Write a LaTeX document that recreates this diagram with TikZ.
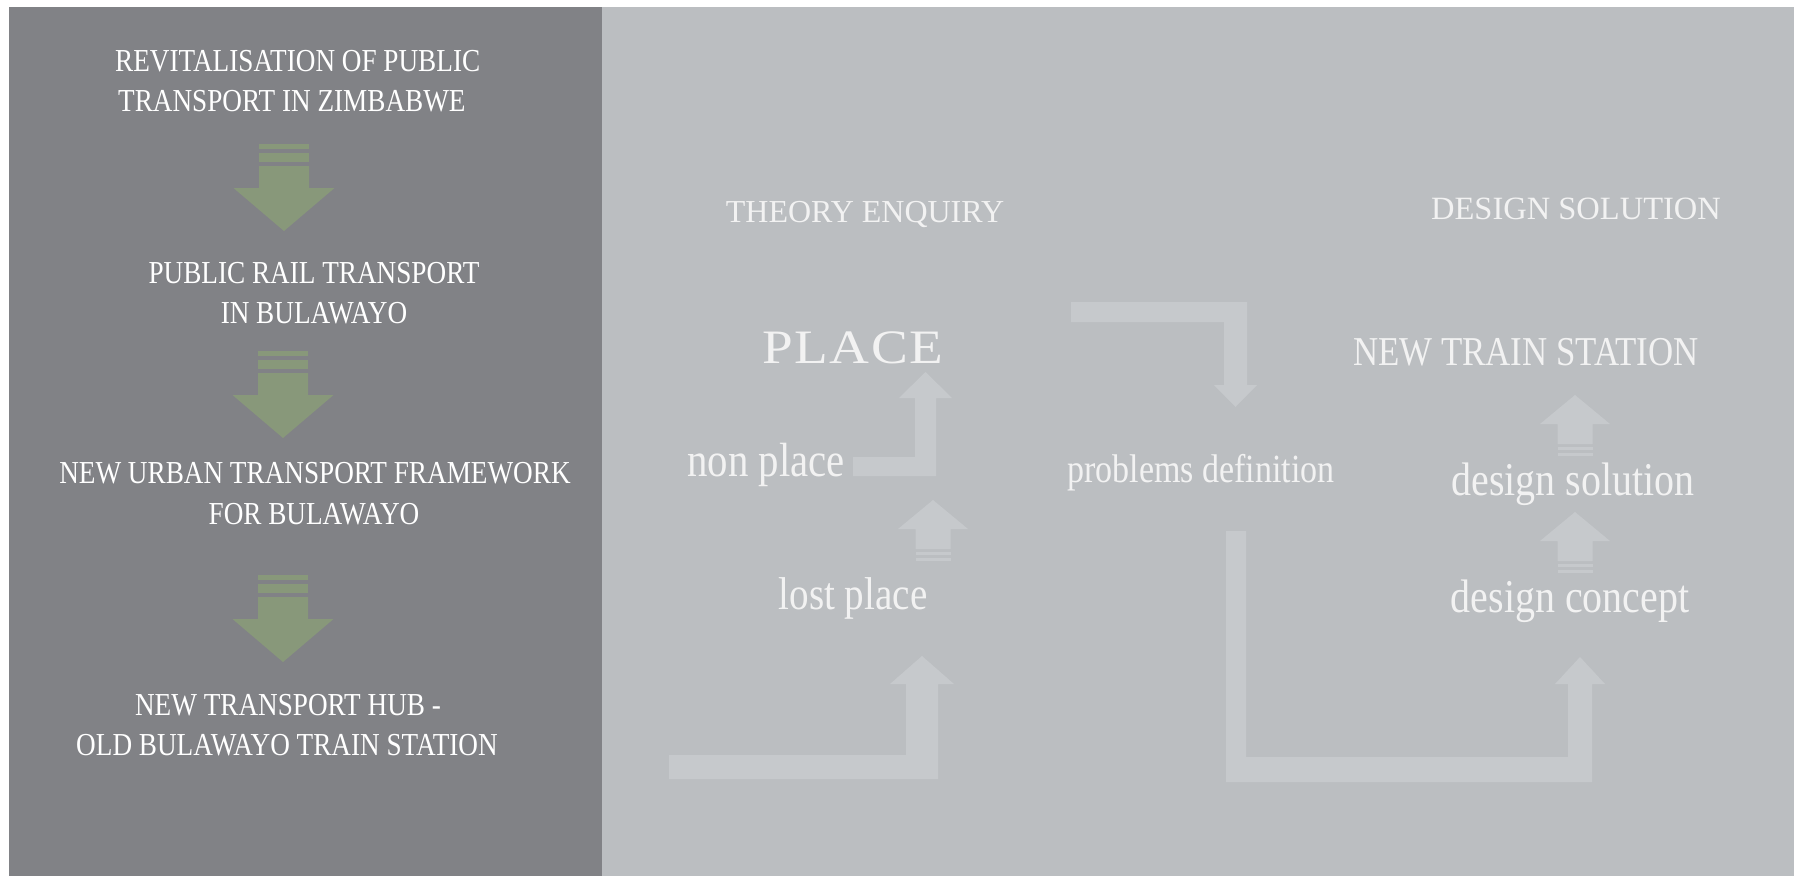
\documentclass[tikz,border=0pt]{standalone}
\usepackage{fontspec}
\setmainfont{Liberation Serif}
\newfontfamily\cond[FakeStretch=0.85]{Liberation Serif}
\newfontfamily\widefont[FakeStretch=1.15]{Liberation Serif}
\definecolor{darkpanel}{HTML}{818286}
\definecolor{lightpanel}{HTML}{BBBEC1}
\definecolor{ghost}{HTML}{C6C9CC}
\definecolor{arrowgreen}{HTML}{88987A}
\definecolor{softwhite}{HTML}{F2F2F2}
\tikzset{
  lefttext/.style={text=white,inner sep=0pt,font=\cond\fontsize{32}{38}\selectfont},
  righttext/.style={text=softwhite,inner sep=0pt},
  greenarrow/.pic={
    \fill[arrowgreen] (-25,0) rectangle (25,5);
    \fill[arrowgreen] (-25,9) rectangle (25,18);
    \fill[arrowgreen] (-25,22) -- (25,22) -- (25,44) -- (50.5,44) -- (0,87) -- (-50.5,44) -- (-25,44) -- cycle;
  },
  ghostup/.pic={
    \fill[ghost] (0,0) -- (35,29) -- (17.5,29) -- (17.5,49) -- (-17.5,49) -- (-17.5,29) -- (-35,29) -- cycle;
    \fill[ghost] (-17.5,52) rectangle (17.5,55);
    \fill[ghost] (-17.5,58) rectangle (17.5,61);
  }
}
\begin{document}
\begin{tikzpicture}[x=1pt,y=-1pt]
\useasboundingbox (0,0) rectangle (1794,876);
\fill[white] (0,0) rectangle (1794,876);
\fill[darkpanel] (9,7) rectangle (602,876);
\fill[lightpanel] (602,7) rectangle (1794,876);

% left column
\node[lefttext,anchor=base west] (t1a) at (115,71) {REVITALISATION OF PUBLIC};
\node[lefttext,anchor=base west] (t1b) at (118,111) {TRANSPORT IN ZIMBABWE};
\node[lefttext,anchor=base] (t2a) at (314,283) {PUBLIC RAIL TRANSPORT};
\node[lefttext,anchor=base] (t2b) at (314,323) {IN BULAWAYO};
\node[lefttext,anchor=base] (t3a) at (315,483) {NEW URBAN TRANSPORT FRAMEWORK};
\node[lefttext,anchor=base] (t3b) at (314,524) {FOR BULAWAYO};
\node[lefttext,anchor=base] (t4a) at (288,715) {NEW TRANSPORT HUB -};
\node[lefttext,anchor=base] (t4b) at (287,755) {OLD BULAWAYO TRAIN STATION};

\pic (ga1) at (284,144) {greenarrow};
\pic (ga2) at (283,351) {greenarrow};
\pic (ga3) at (283,575) {greenarrow};

% ghost arrows
\fill[ghost] (853,457) -- (915,457) -- (915,398) -- (899,398) -- (925.5,372) -- (952,398) -- (936,398) -- (936,476) -- (853,476) -- cycle;
\fill[ghost] (669,755) -- (906,755) -- (906,684) -- (890,684) -- (922,656) -- (954,684) -- (938,684) -- (938,779) -- (669,779) -- cycle;
\fill[ghost] (1071,302) -- (1247,302) -- (1247,385) -- (1257,385) -- (1235.5,407) -- (1214,385) -- (1224,385) -- (1224,322) -- (1071,322) -- cycle;
\fill[ghost] (1226,531) -- (1246,531) -- (1246,757) -- (1568,757) -- (1568,684) -- (1555,684) -- (1580,657) -- (1605,684) -- (1592,684) -- (1592,782) -- (1226,782) -- cycle;
\pic (gu1) at (933,500) {ghostup};
\pic (gu2) at (1575,512) {ghostup};
\pic (gu3) at (1575,395) {ghostup};

% right texts
\node[righttext,anchor=base,font=\fontsize{32}{38}\selectfont] (theory) at (865,222) {THEORY ENQUIRY};
\node[righttext,anchor=base,font=\fontsize{32.5}{38}\selectfont] (dsol) at (1576,219) {DESIGN SOLUTION};
\node[righttext,anchor=base,font=\widefont\fontsize{48}{54}\selectfont] (place) at (853,363) {P\hspace{1.5pt}L\hspace{1.5pt}A\hspace{1.5pt}C\hspace{1.5pt}E};
\node[righttext,anchor=base,font=\cond\fontsize{48}{54}\selectfont] (nonplace) at (766,476) {non place};
\node[righttext,anchor=base,font=\cond\fontsize{46}{52}\selectfont] (lost) at (853,609) {lost place};
\node[righttext,anchor=base,font=\cond\fontsize{40}{46}\selectfont] (prob) at (1201,482) {problems definition};
\node[righttext,anchor=base,font=\cond\fontsize{41}{46}\selectfont] (nts) at (1526,365) {NEW TRAIN STATION};
\node[righttext,anchor=base,font=\cond\fontsize{47}{52}\selectfont] (dsolution) at (1573,495) {design solution};
\node[righttext,anchor=base,font=\cond\fontsize{47}{52}\selectfont] (dconcept) at (1570,612) {design concept};
\end{tikzpicture}
\end{document}
